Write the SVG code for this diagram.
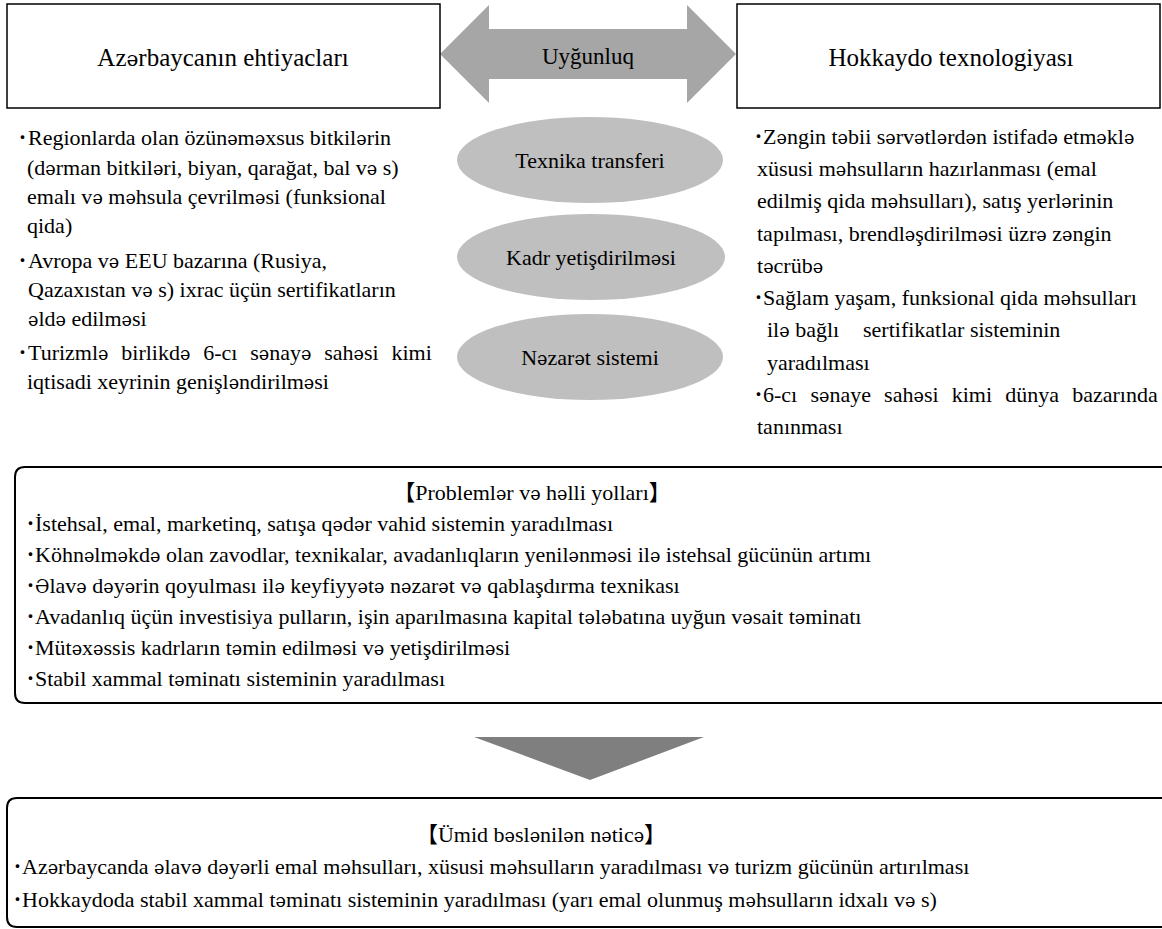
<svg xmlns="http://www.w3.org/2000/svg" width="1162" height="929" viewBox="0 0 1162 929">
<style>
text{font-family:"Liberation Serif","Times New Roman",serif;fill:#000;font-size:22px}
.title{font-size:25px;text-anchor:middle}
.mid{text-anchor:middle}
.e{font-family:"DejaVu Serif",serif;font-size:0.8em}
.cjk{font-family:"Noto Sans CJK JP",sans-serif}
.box{fill:#fff;stroke:#000;stroke-width:1.5}
.rbox{fill:none;stroke:#000;stroke-width:2}
.ell{fill:#bfbfbf}
</style>
<rect width="1162" height="929" fill="#fff"/>
<g id="connectors">
  <polygon id="uygunluq-arrow" points="440,54 489,5 489,29 687,29 687,5 736,54 687,103 687,79 489,79 489,103" fill="#a6a6a6"/>
  <text class="mid" x="588" y="64" style="font-size:23px">Uyğunluq</text>
  <polygon id="down-arrow" points="474,737 704,737 590,780" fill="#7f7f7f"/>
</g>
<g id="node-azerbaycan">
  <rect class="box" x="7" y="4" width="433" height="104"/>
  <text class="title" x="223" y="66">Az<tspan class="e">ə</tspan>rbaycanın ehtiyacları</text>
</g>
<g id="node-hokkaydo">
  <rect class="box" x="737" y="4" width="423" height="104"/>
  <text class="title" x="951" y="66">Hokkaydo texnologiyası</text>
</g>
<g id="node-texnika">
  <ellipse class="ell" cx="590" cy="160" rx="133" ry="43"/>
  <text class="mid" x="590" y="168">Texnika transferi</text>
</g>
<g id="node-kadr">
  <ellipse class="ell" cx="591" cy="257" rx="134" ry="43"/>
  <text class="mid" x="591" y="265">Kadr yetişdirilm<tspan class="e">ə</tspan>si</text>
</g>
<g id="node-nezaret">
  <ellipse class="ell" cx="590" cy="357" rx="133" ry="43"/>
  <text class="mid" x="590" y="365">N<tspan class="e">ə</tspan>zar<tspan class="e">ə</tspan>t sistemi</text>
</g>
<g id="left-list">
  <text x="17" y="145"><tspan class="cjk">･</tspan><tspan x="28">Regionlarda olan özün<tspan class="e">ə</tspan>m<tspan class="e">ə</tspan>xsus bitkil<tspan class="e">ə</tspan>rin</tspan></text>
  <text x="27" y="175">(d<tspan class="e">ə</tspan>rman bitkil<tspan class="e">ə</tspan>ri, biyan, qarağat, bal v<tspan class="e">ə</tspan> s)</text>
  <text x="27" y="204">emalı v<tspan class="e">ə</tspan> m<tspan class="e">ə</tspan>hsula çevrilm<tspan class="e">ə</tspan>si (funksional</text>
  <text x="27" y="233">qida)</text>
  <text x="17" y="268"><tspan class="cjk">･</tspan><tspan x="28">Avropa v<tspan class="e">ə</tspan> EEU bazarına (Rusiya,</tspan></text>
  <text x="28" y="297">Qazaxıstan v<tspan class="e">ə</tspan> s) ixrac üçün sertifikatların</text>
  <text x="28" y="326"><tspan class="e">ə</tspan>ld<tspan class="e">ə</tspan> edilm<tspan class="e">ə</tspan>si</text>
  <text x="17" y="360"><tspan class="cjk">･</tspan><tspan x="28" word-spacing="7.3">Turizml<tspan class="e">ə</tspan> birlikd<tspan class="e">ə</tspan> 6-cı s<tspan class="e">ə</tspan>nay<tspan class="e">ə</tspan> sah<tspan class="e">ə</tspan>si kimi</tspan></text>
  <text x="27" y="389">iqtisadi xeyrinin genişl<tspan class="e">ə</tspan>ndirilm<tspan class="e">ə</tspan>si</text>
</g>
<g id="right-list">
  <text x="753" y="144"><tspan class="cjk">･</tspan><tspan x="763">Z<tspan class="e">ə</tspan>ngin t<tspan class="e">ə</tspan>bii s<tspan class="e">ə</tspan>rv<tspan class="e">ə</tspan>tl<tspan class="e">ə</tspan>rd<tspan class="e">ə</tspan>n istifad<tspan class="e">ə</tspan> etm<tspan class="e">ə</tspan>kl<tspan class="e">ə</tspan></tspan></text>
  <text x="757" y="176">xüsusi m<tspan class="e">ə</tspan>hsulların hazırlanması (emal</text>
  <text x="757" y="208">edilmiş qida m<tspan class="e">ə</tspan>hsulları), satış yerl<tspan class="e">ə</tspan>rinin</text>
  <text x="757" y="241">tapılması, brendl<tspan class="e">ə</tspan>şdirilm<tspan class="e">ə</tspan>si üzr<tspan class="e">ə</tspan> z<tspan class="e">ə</tspan>ngin</text>
  <text x="757" y="273">t<tspan class="e">ə</tspan>crüb<tspan class="e">ə</tspan></text>
  <text x="753" y="305"><tspan class="cjk">･</tspan><tspan x="763">Sağlam yaşam, funksional qida m<tspan class="e">ə</tspan>hsulları</tspan></text>
  <text x="767" y="337">il<tspan class="e">ə</tspan> bağlı<tspan x="863">sertifikatlar sisteminin</tspan></text>
  <text x="767" y="370">yaradılması</text>
  <text x="753" y="402"><tspan class="cjk">･</tspan><tspan x="763" word-spacing="7.7">6-cı s<tspan class="e">ə</tspan>naye sah<tspan class="e">ə</tspan>si kimi dünya bazarında</tspan></text>
  <text x="757" y="434">tanınması</text>
</g>
<g id="node-problemler">
  <path class="rbox" d="M1170,467 H25 Q15,467 15,477 V693 Q15,703 25,703 H1170"/>
  <text x="532" y="500" text-anchor="middle"><tspan class="cjk">【</tspan>Probleml<tspan class="e">ə</tspan>r v<tspan class="e">ə</tspan> h<tspan class="e">ə</tspan>lli yolları<tspan class="cjk">】</tspan></text>
  <text x="25" y="531"><tspan class="cjk">･</tspan><tspan x="35">İstehsal, emal, marketinq, satışa q<tspan class="e">ə</tspan>d<tspan class="e">ə</tspan>r vahid sistemin yaradılması</tspan></text>
  <text x="25" y="562"><tspan class="cjk">･</tspan><tspan x="35">Köhn<tspan class="e">ə</tspan>lm<tspan class="e">ə</tspan>kd<tspan class="e">ə</tspan> olan zavodlar, texnikalar, avadanlıqların yenil<tspan class="e">ə</tspan>nm<tspan class="e">ə</tspan>si il<tspan class="e">ə</tspan> istehsal gücünün artımı</tspan></text>
  <text x="25" y="593"><tspan class="cjk">･</tspan><tspan x="35"><tspan class="e">Ə</tspan>lav<tspan class="e">ə</tspan> d<tspan class="e">ə</tspan>y<tspan class="e">ə</tspan>rin qoyulması il<tspan class="e">ə</tspan> keyfiyy<tspan class="e">ə</tspan>t<tspan class="e">ə</tspan> n<tspan class="e">ə</tspan>zar<tspan class="e">ə</tspan>t v<tspan class="e">ə</tspan> qablaşdırma texnikası</tspan></text>
  <text x="25" y="624"><tspan class="cjk">･</tspan><tspan x="35">Avadanlıq üçün investisiya pulların, işin aparılmasına kapital t<tspan class="e">ə</tspan>l<tspan class="e">ə</tspan>batına uyğun v<tspan class="e">ə</tspan>sait t<tspan class="e">ə</tspan>minatı</tspan></text>
  <text x="25" y="655"><tspan class="cjk">･</tspan><tspan x="35">Müt<tspan class="e">ə</tspan>x<tspan class="e">ə</tspan>ssis kadrların t<tspan class="e">ə</tspan>min edilm<tspan class="e">ə</tspan>si v<tspan class="e">ə</tspan> yetişdirilm<tspan class="e">ə</tspan>si</tspan></text>
  <text x="25" y="686"><tspan class="cjk">･</tspan><tspan x="35">Stabil xammal t<tspan class="e">ə</tspan>minatı sisteminin yaradılması</tspan></text>
</g>
<g id="node-umid">
  <path class="rbox" d="M1170,798 H17 Q7,798 7,808 V917 Q7,927 17,927 H1170"/>
  <text x="541" y="842" text-anchor="middle"><tspan class="cjk">【</tspan>Ümid b<tspan class="e">ə</tspan>sl<tspan class="e">ə</tspan>nil<tspan class="e">ə</tspan>n n<tspan class="e">ə</tspan>tic<tspan class="e">ə</tspan><tspan class="cjk">】</tspan></text>
  <text x="12" y="874"><tspan class="cjk">･</tspan><tspan x="22">Az<tspan class="e">ə</tspan>rbaycanda <tspan class="e">ə</tspan>lav<tspan class="e">ə</tspan> d<tspan class="e">ə</tspan>y<tspan class="e">ə</tspan>rli emal m<tspan class="e">ə</tspan>hsulları, xüsusi m<tspan class="e">ə</tspan>hsulların yaradılması v<tspan class="e">ə</tspan> turizm gücünün artırılması</tspan></text>
  <text x="12" y="907"><tspan class="cjk">･</tspan><tspan x="22">Hokkaydoda stabil xammal t<tspan class="e">ə</tspan>minatı sisteminin yaradılması (yarı emal olunmuş m<tspan class="e">ə</tspan>hsulların idxalı v<tspan class="e">ə</tspan> s)</tspan></text>
</g>
</svg>
